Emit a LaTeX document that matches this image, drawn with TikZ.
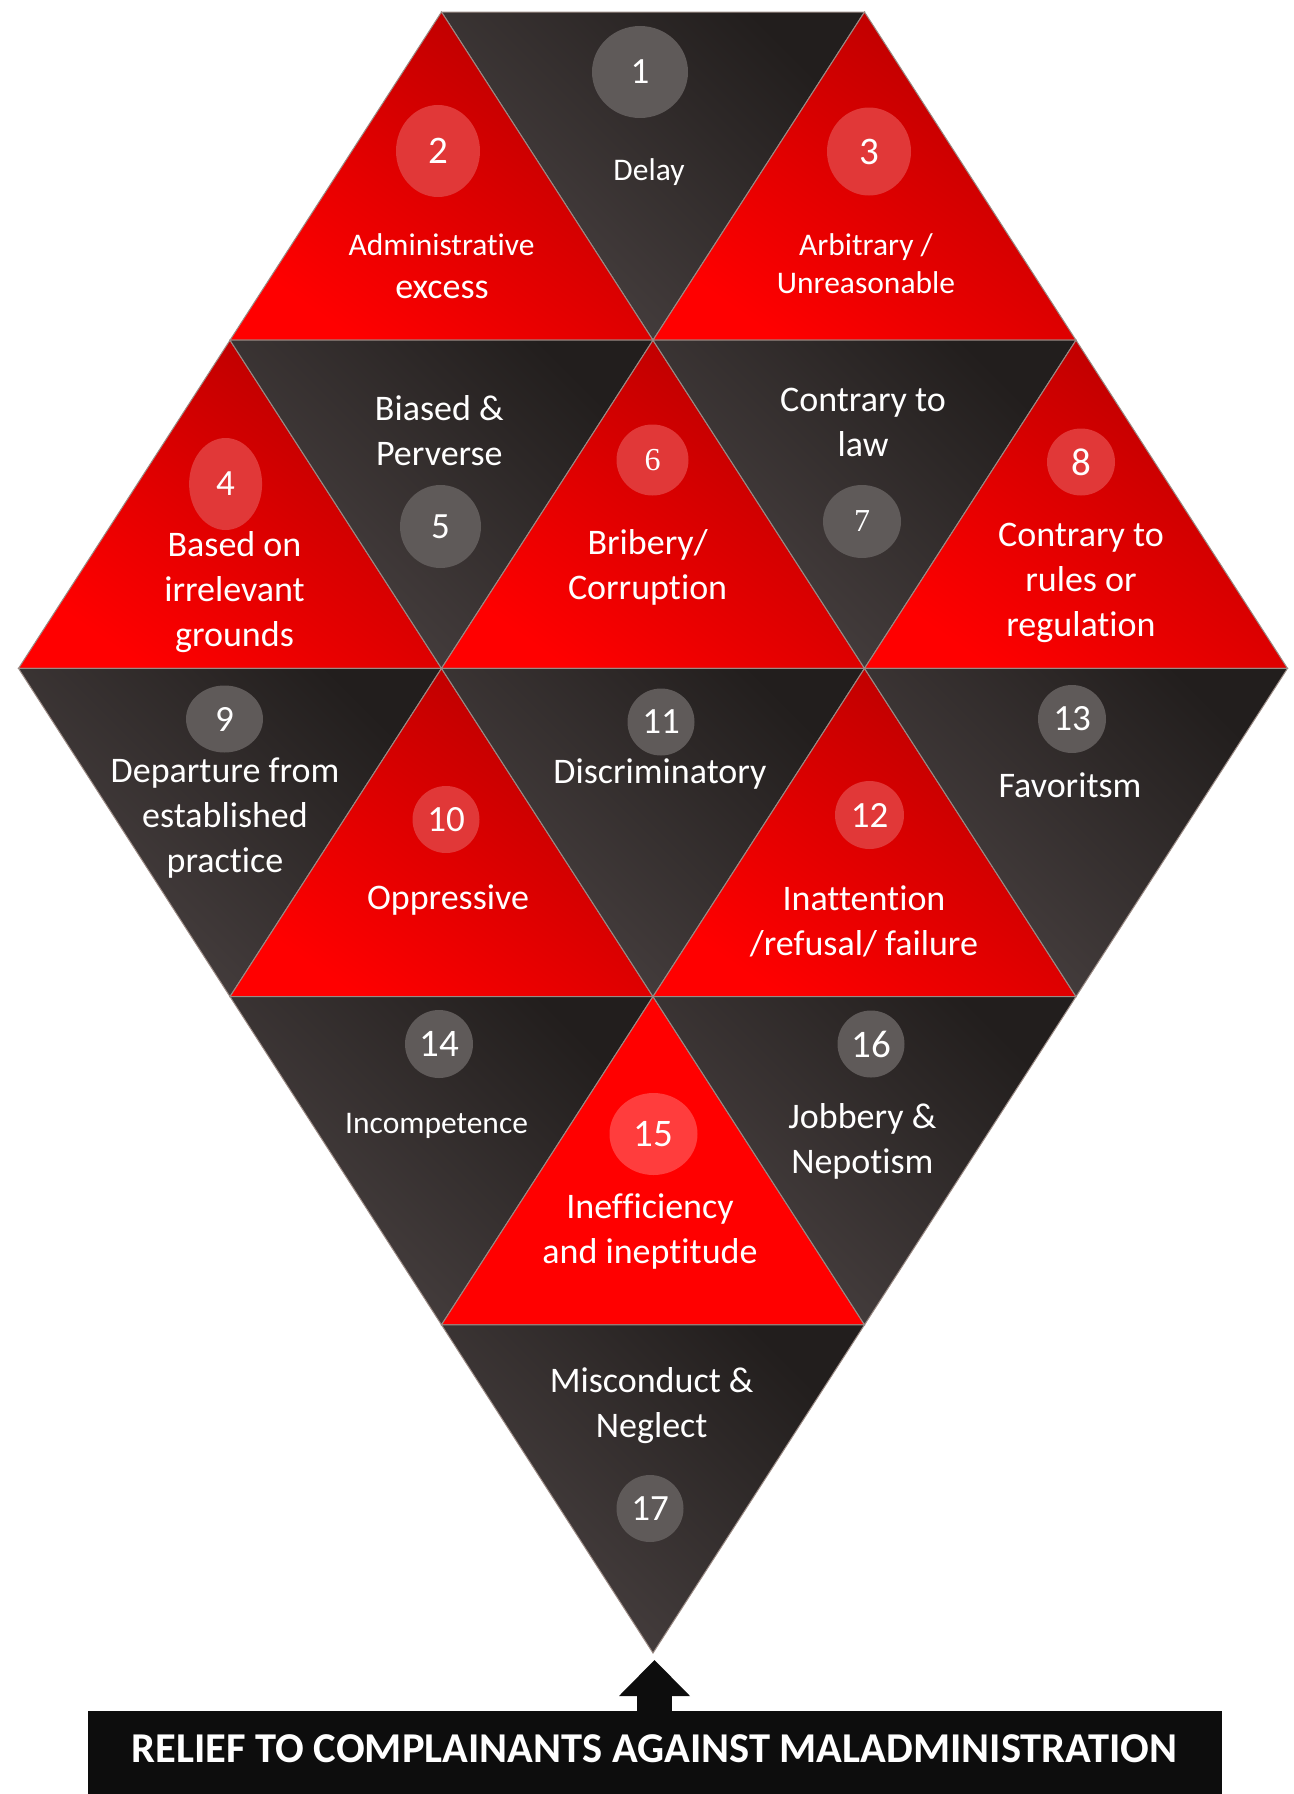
\documentclass[tikz,border=0pt]{standalone}
\usepackage{fontspec}
\setmainfont{Carlito}[Ligatures=CommonOff]
\newfontfamily\numserif{Liberation Serif}
\usetikzlibrary{shapes.geometric,arrows.meta}
\definecolor{rtop}{HTML}{B80000}
\definecolor{rbot}{HTML}{FF0000}
\definecolor{dtop}{HTML}{221E1D}
\definecolor{dbot}{HTML}{4A4242}
\definecolor{edgec}{HTML}{9A8A84}
\definecolor{cdark}{HTML}{5F5A59}
\definecolor{cred}{HTML}{E13838}
\definecolor{cbright}{HTML}{FF3D3D}
\definecolor{boxc}{HTML}{0D0D0D}
\newcommand{\ml}[1]{\begin{tabular}[t]{@{}c@{}}#1\end{tabular}}
\tikzset{
  redtri/.style={top color=rtop, bottom color=rbot, shading angle=-35, draw=edgec, line width=0.5pt},
  darktri/.style={top color=dtop, bottom color=dbot, shading angle=-45, draw=edgec, line width=0.5pt},
  flatred/.style={fill=rbot, draw=edgec, line width=0.5pt},
  lbl/.style={text=white, inner sep=0pt, anchor=base, font=\fontsize{18}{22.5}\selectfont},
  slbl/.style={text=white, inner sep=0pt, anchor=base, font=\fontsize{15.75}{19}\selectfont},
  numc/.style={ellipse, inner sep=0pt, text=white, font=\fontsize{18.5}{22}\selectfont},
  bignum/.style={font=\fontsize{19.5}{23}\selectfont},
  sernum/.style={font=\numserif\fontsize{16}{19}\selectfont},
  dnum/.style={numc, fill=cdark},
  rnum/.style={numc, fill=cred},
  bnum/.style={numc, fill=cbright},
  boxst/.style={rectangle, anchor=north, fill=boxc, text=white, inner sep=0pt,
    minimum width=567pt, text height=25.35pt, text depth=17pt,
    font=\bfseries\fontsize{21.25}{25}\selectfont},
  arrowst/.style={draw=boxc, line width=17.5pt, line cap=butt,
    -{Triangle[width=35.5pt,length=18pt,line width=0pt]}}
}
\begin{document}
\begin{tikzpicture}[x=0.5pt,y=-0.5pt]
\useasboundingbox (0,0) rectangle (1294,1794);
% row 0
\path[darktri] (441.5,12) -- (864.5,12) -- (653,340.2) -- cycle;
\path[redtri] (441.5,12) -- (653,340.2) -- (230,340.2) -- cycle;
\path[redtri] (864.5,12) -- (1076,340.2) -- (653,340.2) -- cycle;
% row 1
\path[redtri] (230,340.2) -- (441.5,668.4) -- (18.5,668.4) -- cycle;
\path[darktri] (230,340.2) -- (653,340.2) -- (441.5,668.4) -- cycle;
\path[redtri] (653,340.2) -- (864.5,668.4) -- (441.5,668.4) -- cycle;
\path[darktri] (653,340.2) -- (1076,340.2) -- (864.5,668.4) -- cycle;
\path[redtri] (1076,340.2) -- (1287.5,668.4) -- (864.5,668.4) -- cycle;
% row 2
\path[darktri] (18.5,668.4) -- (441.5,668.4) -- (230,996.6) -- cycle;
\path[redtri] (441.5,668.4) -- (653,996.6) -- (230,996.6) -- cycle;
\path[darktri] (441.5,668.4) -- (864.5,668.4) -- (653,996.6) -- cycle;
\path[redtri] (864.5,668.4) -- (1076,996.6) -- (653,996.6) -- cycle;
\path[darktri] (864.5,668.4) -- (1287.5,668.4) -- (1076,996.6) -- cycle;
% row 3
\path[darktri] (230,996.6) -- (653,996.6) -- (441.5,1324.8) -- cycle;
\path[flatred] (653,996.6) -- (864.5,1324.8) -- (441.5,1324.8) -- cycle;
\path[darktri] (653,996.6) -- (1076,996.6) -- (864.5,1324.8) -- cycle;
% row 4
\path[darktri] (441.5,1324.8) -- (864.5,1324.8) -- (653,1653) -- cycle;

% number badges
\node[dnum, minimum width=48pt, minimum height=46pt] (n1) at (640,72) {1};
\node[rnum, bignum, minimum width=42pt, minimum height=46pt] (n2) at (438,151) {2};
\node[rnum, bignum, minimum width=42pt, minimum height=44pt] (n3) at (869,151.5) {3};
\node[rnum, minimum width=36.5pt, minimum height=46pt] (n4) at (225.6,484) {4};
\node[dnum, minimum width=40.5pt, minimum height=41.5pt] (n5) at (440.5,526.5) {5};
\node[rnum, sernum, minimum width=36pt, minimum height=35.5pt] (n6) at (652.5,460) {6};
\node[dnum, sernum, minimum width=39pt, minimum height=36.5pt] (n7) at (862,521.5) {7};
\node[rnum, bignum, minimum width=34pt, minimum height=33.5pt] (n8) at (1081,462) {8};
\node[dnum, minimum width=38.5pt, minimum height=33.5pt] (n9) at (224.5,719) {9};
\node[rnum, minimum width=33.5pt, minimum height=33.5pt] (n10) at (446,819.5) {10};
\node[dnum, minimum width=33.5pt, minimum height=33.5pt] (n11) at (661,722) {11};
\node[rnum, minimum width=34.5pt, minimum height=34pt] (n12) at (869.5,815) {12};
\node[dnum, minimum width=34pt, minimum height=34pt] (n13) at (1072,719) {13};
\node[dnum, bignum, minimum width=34pt, minimum height=34pt] (n14) at (439,1044) {14};
\node[bnum, bignum, minimum width=44pt, minimum height=41pt] (n15) at (653.5,1134) {15};
\node[dnum, bignum, minimum width=33.5pt, minimum height=33.5pt] (n16) at (871,1044) {16};
\node[dnum, minimum width=33.5pt, minimum height=33.5pt] (n17) at (650,1508.5) {17};

% labels
\node[slbl] (l1) at (649,180) {Delay};
\node[slbl] (l2a) at (441.6,255) {Administrative};
\node[lbl] (l2b) at (442,298.3) {excess};
\node[slbl] (l3) at (866,255) {\ml{Arbitrary /\\Unreasonable}};
\node[lbl] (l4) at (234.5,556.7) {\ml{Based on\\irrelevant\\grounds}};
\node[lbl] (l5) at (439.3,420.7) {\ml{Biased \&\\Perverse}};
\node[lbl] (l6) at (647.6,554) {\ml{Bribery/\\Corruption}};
\node[lbl] (l7) at (863,411.7) {\ml{Contrary to\\law}};
\node[lbl] (l8) at (1081,546.7) {\ml{Contrary to\\rules or\\regulation}};
\node[lbl] (l9) at (225,782.7) {\ml{Departure from\\established\\practice}};
\node[lbl] (l10) at (448,909.3) {Oppressive};
\node[lbl] (l11) at (660,783.3) {Discriminatory};
\node[lbl] (l12) at (864,910) {\ml{Inattention\\/refusal/ failure}};
\node[lbl] (l13) at (1070,797.3) {Favoritsm};
\node[slbl] (l14) at (436.6,1133.3) {Incompetence};
\node[lbl] (l15) at (650,1218.3) {\ml{Inefficiency\\and ineptitude}};
\node[lbl] (l16) at (862.4,1128.3) {\ml{Jobbery \&\\Nepotism}};
\node[lbl] (l17) at (651.7,1392.7) {\ml{Misconduct \&\\Neglect}};

% bottom box and arrow
\node[boxst] (box) at (654.5,1711) {RELIEF TO COMPLAINANTS AGAINST MALADMINISTRATION};
\coordinate (tip) at (654.5,1660);
\draw[arrowst] (box.north) -- (tip);
\end{tikzpicture}
\end{document}
